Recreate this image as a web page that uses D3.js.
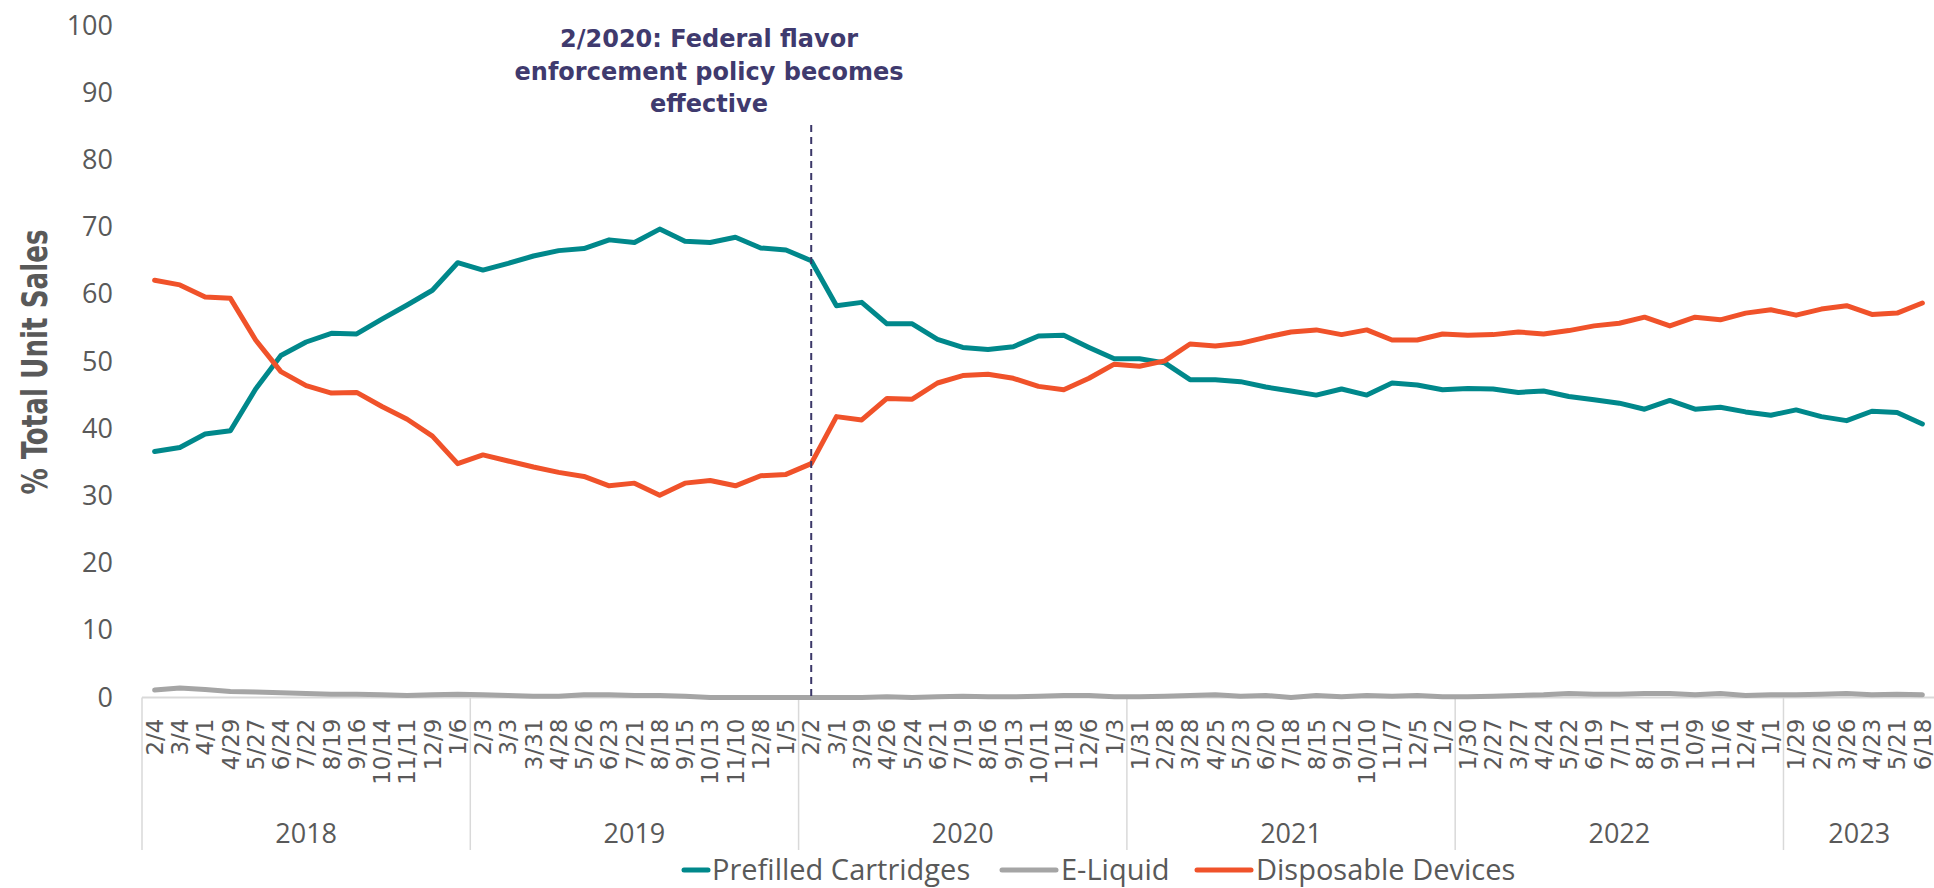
<!DOCTYPE html>
<html>
<head>
<meta charset="utf-8">
<script src="https://cdn.jsdelivr.net/npm/d3@7"></script>
<style>
  body { margin: 0; background: #fff; }
  svg { display: block; }
</style>
</head>
<body>
<div id="chart"></div>
<script>
// 4-week periods (week ending), grouped by year
const weekLabels = [
    "2/4","3/4","4/1","4/29","5/27","6/24","7/22","8/19","9/16","10/14","11/11","12/9","1/6",
    "2/3","3/3","3/31","4/28","5/26","6/23","7/21","8/18","9/15","10/13","11/10","12/8","1/5",
    "2/2","3/1","3/29","4/26","5/24","6/21","7/19","8/16","9/13","10/11","11/8","12/6","1/3",
    "1/31","2/28","3/28","4/25","5/23","6/20","7/18","8/15","9/12","10/10","11/7","12/5","1/2",
    "1/30","2/27","3/27","4/24","5/22","6/19","7/17","8/14","9/11","10/9","11/6","12/4","1/1",
    "1/29","2/26","3/26","4/23","5/21","6/18"
];
const yearLabels = ["2018", "2019", "2020", "2021", "2022", "2023"];
const yearSizes = [13, 13, 13, 13, 13, 6];

const prefilled = [
    36.6, 37.2, 39.2, 39.7, 45.9, 50.9, 52.9, 54.2, 54.1, 56.3, 58.4, 60.6, 64.7,
    63.6, 64.6, 65.7, 66.5, 66.8, 68.1, 67.7, 69.7, 67.9, 67.7, 68.5, 66.9, 66.6,
    65.0, 58.3, 58.8, 55.6, 55.6, 53.3, 52.1, 51.8, 52.2, 53.8, 53.9, 52.1, 50.4,
    50.4, 49.8, 47.3, 47.3, 47.0, 46.2, 45.6, 45.0, 45.9, 45.0, 46.8, 46.5, 45.8,
    46.0, 45.9, 45.4, 45.6, 44.8, 44.3, 43.8, 42.9, 44.2, 42.9, 43.2, 42.5, 42.0,
    42.8, 41.8, 41.2, 42.6, 42.4, 40.7
];
const eLiquid = [
    1.1, 1.4, 1.2, 0.9, 0.8, 0.7, 0.6, 0.5, 0.5, 0.4, 0.3, 0.4, 0.5,
    0.4, 0.3, 0.2, 0.2, 0.4, 0.4, 0.3, 0.3, 0.2, 0.0, 0.0, 0.0, 0.0,
    0.0, 0.0, 0.0, 0.1, 0.0, 0.1, 0.2, 0.1, 0.1, 0.2, 0.3, 0.3, 0.1,
    0.1, 0.2, 0.3, 0.4, 0.2, 0.3, 0.0, 0.3, 0.1, 0.3, 0.2, 0.3, 0.1,
    0.1, 0.2, 0.3, 0.4, 0.6, 0.5, 0.5, 0.6, 0.6, 0.4, 0.6, 0.3, 0.4,
    0.4, 0.5, 0.6, 0.4, 0.5, 0.4
];
const disposable = [
    62.1, 61.4, 59.6, 59.4, 53.2, 48.5, 46.4, 45.3, 45.4, 43.3, 41.4, 38.9, 34.8,
    36.1, 35.2, 34.3, 33.5, 32.9, 31.5, 31.9, 30.1, 31.9, 32.3, 31.5, 33.0, 33.2,
    34.8, 41.8, 41.3, 44.5, 44.4, 46.8, 47.9, 48.1, 47.5, 46.3, 45.8, 47.5, 49.6,
    49.3, 50.1, 52.6, 52.3, 52.7, 53.6, 54.4, 54.7, 54.0, 54.7, 53.2, 53.2, 54.1,
    53.9, 54.0, 54.4, 54.1, 54.6, 55.3, 55.7, 56.6, 55.3, 56.6, 56.2, 57.2, 57.7,
    56.9, 57.8, 58.3, 57.0, 57.2, 58.7
];

const seriesNames = ["Prefilled Cartridges", "E-Liquid", "Disposable Devices"];
const seriesColors = ["#00888b", "#a5a5a5", "#f0522a"];
const yTicks = [0, 10, 20, 30, 40, 50, 60, 70, 80, 90, 100];

// policy marker sits on the 2/2 (2020) period
const policyIndex = 26;
const policyText = ["2/2020: Federal flavor", "enforcement policy becomes", "effective"];

const width = 1934, height = 888;
const plot = {left: 142, right: 1935, top: 25.5, bottom: 697.5};

const svg = d3.select("#chart").append("svg")
    .attr("width", width)
    .attr("height", height);

const idx = d3.range(weekLabels.length);

const x = d3.scaleBand()
    .domain(idx)
    .range([plot.left, plot.right])
    .paddingInner(0)
    .paddingOuter(0);
const xc = (i) => x(i) + x.bandwidth() / 2;

const y = d3.scaleLinear()
    .domain([0, 100])
    .range([plot.bottom, plot.top]);

// y axis (no line, no ticks)
const yAxis = svg.append("g")
    .attr("transform", "translate(113,0)")
    .call(d3.axisLeft(y).tickValues(yTicks).tickSize(0).tickPadding(0));
yAxis.select(".domain").remove();
yAxis.selectAll("text")
    .attr("fill", "#595959")
    .style("font-family", "'Open Sans', sans-serif")
    .style("font-size", "27px");

svg.append("text")
    .attr("transform", "translate(47,362) rotate(-90)")
    .attr("text-anchor", "middle")
    .attr("textLength", 265)
    .attr("lengthAdjust", "spacingAndGlyphs")
    .attr("fill", "#595959")
    .style("font-family", "'Liberation Sans Narrow', 'DejaVu Sans Condensed', sans-serif")
    .style("font-weight", "bold")
    .style("font-size", "36px")
    .text("% Total Unit Sales");

// category axis line
svg.append("line")
    .attr("x1", plot.left).attr("x2", width)
    .attr("y1", plot.bottom).attr("y2", plot.bottom)
    .attr("stroke", "#d9d9d9")
    .attr("stroke-width", 2);

// week labels, rotated
const xAxis = svg.append("g")
    .attr("transform", "translate(0," + plot.bottom + ")")
    .call(d3.axisBottom(x).tickSize(0).tickFormat((i) => weekLabels[i]));
xAxis.select(".domain").remove();
xAxis.selectAll("text")
    .attr("transform", "rotate(-90)")
    .attr("x", -21)
    .attr("y", 0)
    .attr("dy", "0.36em")
    .style("text-anchor", "end")
    .attr("fill", "#595959")
    .style("font-family", "'DejaVu Sans', sans-serif")
    .style("font-size", "23px");

// year groups
let start = 0;
const groups = yearLabels.map((yr, k) => {
    const g = {label: yr, from: start, to: start + yearSizes[k]};
    start += yearSizes[k];
    return g;
});

svg.append("g").selectAll("line")
    .data(groups)
    .join("line")
    .attr("x1", (d) => x(d.from)).attr("x2", (d) => x(d.from))
    .attr("y1", plot.bottom).attr("y2", 850)
    .attr("stroke", "#d9d9d9")
    .attr("stroke-width", 1.5);

svg.append("g").selectAll("text")
    .data(groups)
    .join("text")
    .attr("x", (d) => (x(d.from) + x(d.to - 1) + x.bandwidth()) / 2)
    .attr("y", 843)
    .attr("text-anchor", "middle")
    .attr("fill", "#595959")
    .style("font-family", "'Open Sans', sans-serif")
    .style("font-size", "27px")
    .text((d) => d.label);

// lines
const seriesData = [prefilled, eLiquid, disposable];
const line = d3.line()
    .x((d, i) => xc(i))
    .y((d) => y(d));

svg.append("g").selectAll("path")
    .data(seriesData)
    .join("path")
    .attr("d", line)
    .attr("fill", "none")
    .attr("stroke", (d, k) => seriesColors[k])
    .attr("stroke-width", 5)
    .attr("stroke-linejoin", "round")
    .attr("stroke-linecap", "round");

// policy marker
svg.append("line")
    .attr("x1", xc(policyIndex)).attr("x2", xc(policyIndex))
    .attr("y1", 125).attr("y2", plot.bottom)
    .attr("stroke", "#3b3768")
    .attr("stroke-width", 2)
    .attr("stroke-dasharray", "7,5");

svg.append("text")
    .attr("x", 709)
    .attr("y", 47)
    .attr("text-anchor", "middle")
    .attr("fill", "#3f3a6e")
    .style("font-family", "'DejaVu Sans', sans-serif")
    .style("font-weight", "bold")
    .style("font-size", "24px")
    .selectAll("tspan")
    .data(policyText)
    .join("tspan")
    .attr("x", 709)
    .attr("dy", (d, i) => i === 0 ? 0 : 32.5)
    .text((d) => d);

// legend
const legendItems = [
    {name: seriesNames[0], color: seriesColors[0], x1: 684, x2: 708, tx: 712},
    {name: seriesNames[1], color: seriesColors[1], x1: 1002, x2: 1056, tx: 1061},
    {name: seriesNames[2], color: seriesColors[2], x1: 1197, x2: 1251, tx: 1256}
];
const legend = svg.append("g");
legend.selectAll("line")
    .data(legendItems)
    .join("line")
    .attr("x1", (d) => d.x1).attr("x2", (d) => d.x2)
    .attr("y1", 870).attr("y2", 870)
    .attr("stroke", (d) => d.color)
    .attr("stroke-width", 5)
    .attr("stroke-linecap", "round");
legend.selectAll("text")
    .data(legendItems)
    .join("text")
    .attr("x", (d) => d.tx)
    .attr("y", 880)
    .attr("fill", "#595959")
    .style("font-family", "'Open Sans', sans-serif")
    .style("font-size", "29px")
    .text((d) => d.name);
</script>
</body>
</html>
